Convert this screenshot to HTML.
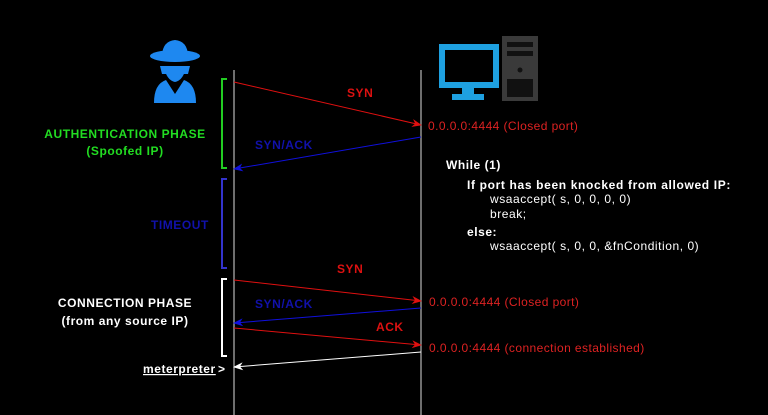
<html><body style="margin:0;background:#000">
<svg width="768" height="415" viewBox="0 0 768 415" xmlns="http://www.w3.org/2000/svg" style="display:block;font-family:'Liberation Sans',sans-serif">
<rect width="768" height="415" fill="#000"/>
<line x1="234" y1="70" x2="234" y2="415" stroke="#ddd" stroke-width="1"/>
<line x1="421" y1="70" x2="421" y2="415" stroke="#ddd" stroke-width="1"/>
<!-- spy -->
<g fill="#1e88f0">
<ellipse cx="175" cy="56" rx="25" ry="6"/>
<path d="M162 55 Q163 41 175 40 Q187 41 188 55Z"/>
<path d="M160 66 L190 66 L188 74 L180 74 L175 70 L170 74 L162 74Z"/>
<path d="M154 103 Q154 84 166 80 L175 94 L184 80 Q196 84 196 103Z"/>
<path d="M164 66 Q166 80 175 82 Q184 80 186 66Z"/>
</g>
<!-- computer -->
<rect x="442" y="47" width="54" height="38" fill="none" stroke="#1ea0e0" stroke-width="6"/>
<rect x="462" y="88" width="12" height="6" fill="#1ea0e0"/>
<rect x="452" y="94" width="32" height="6" fill="#1ea0e0"/>
<rect x="502" y="36" width="36" height="65" fill="#3a3a3a"/>
<rect x="507" y="42" width="26" height="5" fill="#111"/>
<rect x="507" y="51" width="26" height="5" fill="#111"/>
<circle cx="520" cy="70" r="2.5" fill="#111"/>
<rect x="507" y="79" width="26" height="18" fill="#111"/>
<!-- brackets -->
<path d="M227 79 L222 79 L222 168 L227 168" fill="none" stroke="#22cc22" stroke-width="2"/>
<path d="M227 179 L222 179 L222 268 L227 268" fill="none" stroke="#3333cc" stroke-width="2"/>
<path d="M227 279 L222 279 L222 356 L227 356" fill="none" stroke="#fff" stroke-width="2"/>
<defs>
<marker id="r" markerWidth="10" markerHeight="8" refX="9" refY="4" orient="auto" markerUnits="userSpaceOnUse"><path d="M0 0L10 4L0 8L3 4Z" fill="#e01010"/></marker>
<marker id="b" markerWidth="10" markerHeight="8" refX="9" refY="4" orient="auto" markerUnits="userSpaceOnUse"><path d="M0 0L10 4L0 8L3 4Z" fill="#1010dd"/></marker>
<marker id="w" markerWidth="10" markerHeight="8" refX="9" refY="4" orient="auto" markerUnits="userSpaceOnUse"><path d="M0 0L10 4L0 8L3 4Z" fill="#fff"/></marker>
</defs>
<line x1="234" y1="82" x2="421" y2="125" stroke="#e01010" marker-end="url(#r)"/>
<line x1="421" y1="137" x2="234" y2="169" stroke="#1010dd" marker-end="url(#b)"/>
<line x1="234" y1="280" x2="421" y2="301" stroke="#e01010" marker-end="url(#r)"/>
<line x1="421" y1="308" x2="234" y2="323" stroke="#1010dd" marker-end="url(#b)"/>
<line x1="234" y1="328" x2="421" y2="345" stroke="#e01010" marker-end="url(#r)"/>
<line x1="421" y1="352" x2="234" y2="367" stroke="#fff" marker-end="url(#w)"/>
<g font-size="12" font-weight="bold" letter-spacing="0.55">
<text x="347" y="97" fill="#dd1111">SYN</text>
<text x="255" y="149" fill="#1111aa">SYN/ACK</text>
<text x="337" y="273" fill="#dd1111">SYN</text>
<text x="255" y="308" fill="#1111aa">SYN/ACK</text>
<text x="376" y="331" fill="#dd1111">ACK</text>
<text x="151" y="229" fill="#1111aa">TIMEOUT</text>
<text x="125" y="138" fill="#22dd22" text-anchor="middle">AUTHENTICATION PHASE</text>
<text x="125" y="155" fill="#22dd22" text-anchor="middle">(Spoofed IP)</text>
<text x="125" y="307" fill="#fff" text-anchor="middle">CONNECTION PHASE</text>
<text x="125" y="325" fill="#fff" text-anchor="middle">(from any source IP)</text>
<text x="143" y="373" fill="#fff" text-decoration="underline">meterpreter</text>
<text x="218" y="373" fill="#fff">&gt;</text>
<text x="446" y="169" fill="#fff">While (1)</text>
<text x="467" y="189" fill="#fff" letter-spacing="0.65">If port has been knocked from allowed IP:</text>
<text x="467" y="236" fill="#fff">else:</text>
</g>
<g font-size="12" fill="#fff" letter-spacing="0.55">
<text x="490" y="203">wsaaccept( s, 0, 0, 0, 0)</text>
<text x="490" y="218">break;</text>
<text x="490" y="250">wsaaccept( s, 0, 0, &amp;fnCondition, 0)</text>
</g>
<g font-size="12" fill="#dd2222" letter-spacing="0.42">
<text x="428" y="130">0.0.0.0:4444 (Closed port)</text>
<text x="429" y="306">0.0.0.0:4444 (Closed port)</text>
<text x="429" y="352">0.0.0.0:4444 (connection established)</text>
</g>
</svg>
</body></html>
